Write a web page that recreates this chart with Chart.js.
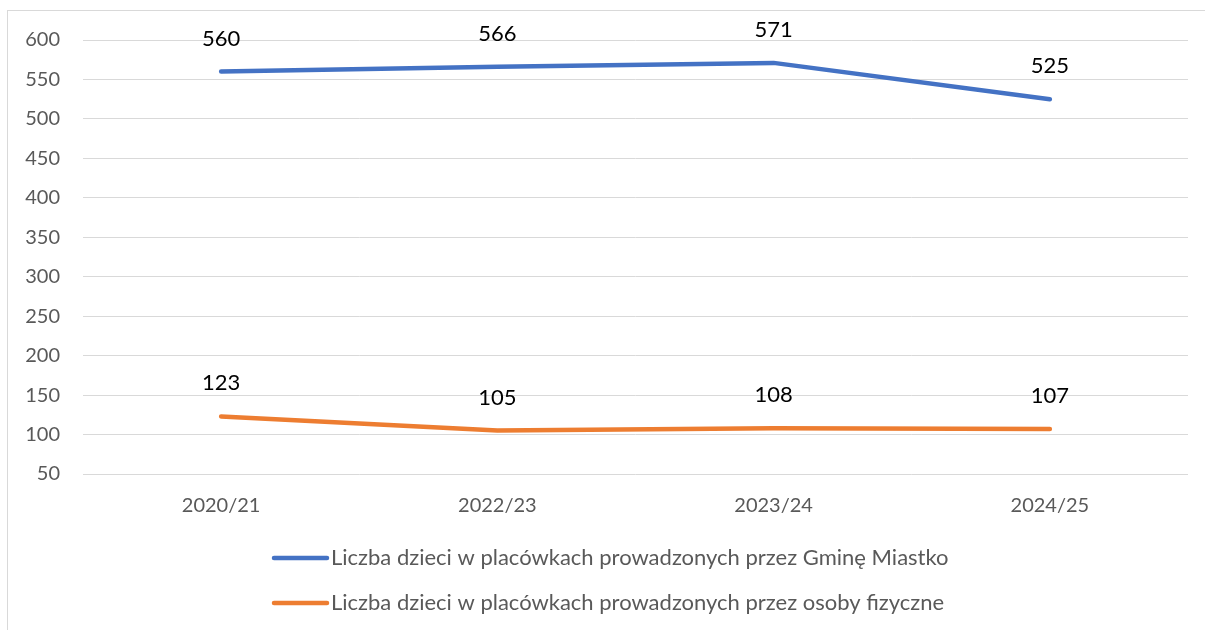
<!DOCTYPE html>
<html>
<head>
<meta charset="utf-8">
<script src="https://cdn.jsdelivr.net/npm/chart.js@4/dist/chart.umd.min.js"></script>
<style>
  html, body { margin: 0; padding: 0; background: #fff; }
  #wrap { position: relative; width: 1205px; height: 630px; }
</style>
</head>
<body>
<div id="wrap"><canvas id="c" width="1205" height="630"></canvas></div>
<script>
const categories = ["2020/21", "2022/23", "2023/24", "2024/25"];
const seriesNames = [
  "Liczba dzieci w placówkach prowadzonych przez Gminę Miastko",
  "Liczba dzieci w placówkach prowadzonych przez osoby fizyczne"
];
const gminaValues = [560, 566, 571, 525];
const prywatneValues = [123, 105, 108, 107];
const yMin = 50, yMax = 600, yStep = 50;

const FONT = "Lato, 'Noto Sans', sans-serif";

const frame = {
  id: 'frame',
  beforeDraw(chart) {
    const ctx = chart.ctx;
    ctx.save();
    ctx.fillStyle = '#fff';
    ctx.fillRect(0, 0, chart.width, chart.height);
    ctx.strokeStyle = '#d9d9d9';
    ctx.lineWidth = 1;
    ctx.strokeRect(7.5, 10.5, 1400, 800);
    ctx.restore();
  }
};

const valueLabels = {
  id: 'valueLabels',
  afterDatasetsDraw(chart) {
    const ctx = chart.ctx;
    ctx.save();
    ctx.font = "22px " + FONT;
    ctx.fillStyle = '#000';
    ctx.textAlign = 'center';
    ctx.textBaseline = 'middle';
    chart.data.datasets.forEach((ds, i) => {
      const meta = chart.getDatasetMeta(i);
      meta.data.forEach((pt, j) => {
        ctx.fillText(String(ds.data[j]), pt.x, pt.y - 33);
      });
    });
    ctx.restore();
  }
};

const customLegend = {
  id: 'customLegend',
  afterDraw(chart) {
    const ctx = chart.ctx;
    ctx.save();
    ctx.font = "22px " + FONT;
    ctx.textBaseline = 'middle';
    ctx.textAlign = 'left';
    const rows = [558, 603];
    chart.data.datasets.forEach((ds, i) => {
      const y = rows[i];
      ctx.strokeStyle = ds.borderColor;
      ctx.lineWidth = 4.5;
      ctx.lineCap = 'round';
      ctx.beginPath();
      ctx.moveTo(274, y);
      ctx.lineTo(327, y);
      ctx.stroke();
      ctx.fillStyle = '#595959';
      ctx.fillText(ds.label, 331, y);
    });
    ctx.restore();
  }
};

new Chart(document.getElementById('c'), {
  type: 'line',
  data: {
    labels: categories,
    datasets: [
      { label: seriesNames[0], data: gminaValues, borderColor: '#4472C4', backgroundColor: '#4472C4',
        borderWidth: 4.5, pointRadius: 0, borderCapStyle: 'round', borderJoinStyle: 'round', tension: 0 },
      { label: seriesNames[1], data: prywatneValues, borderColor: '#ED7D31', backgroundColor: '#ED7D31',
        borderWidth: 4.5, pointRadius: 0, borderCapStyle: 'round', borderJoinStyle: 'round', tension: 0 }
    ]
  },
  options: {
    responsive: false,
    animation: false,
    devicePixelRatio: 1,
    layout: { padding: { left: 0, right: 17, top: 40, bottom: 106 } },
    plugins: { legend: { display: false }, tooltip: { enabled: false } },
    scales: {
      x: {
        offset: true,
        grid: { display: false, drawTicks: false },
        border: { display: false },
        ticks: { color: '#595959', font: { family: FONT, size: 20 }, padding: 20, maxRotation: 0 },
        afterFit(scale) { scale.height = 50; }
      },
      y: {
        min: yMin, max: yMax,
        grid: { color: '#d9d9d9', lineWidth: 1, drawTicks: false },
        border: { display: false },
        ticks: { stepSize: yStep, color: '#595959', font: { family: FONT, size: 20 }, padding: 23 },
        afterFit(scale) { scale.width = 83; }
      }
    }
  },
  plugins: [frame, valueLabels, customLegend]
});
</script>
</body>
</html>
